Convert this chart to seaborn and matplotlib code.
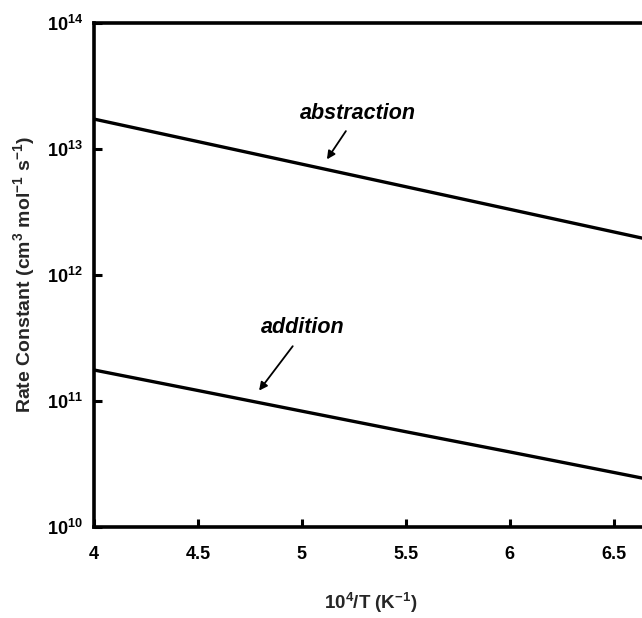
import matplotlib
matplotlib.use('Agg')
import matplotlib.pyplot as plt
import matplotlib.ticker as mticker
import numpy as np
import pandas as pd
import seaborn as sns

# values (log-scale rate constants)
inv_temp = [4.0, 4.5, 5.0, 5.5, 6.0, 6.5, 7.0]
k_abstraction = [1.72e13, 1.14e13, 7.55e12, 5.0e12, 3.31e12, 2.19e12, 1.45e12]
k_addition = [1.76e11, 1.21e11, 8.3e10, 5.7e10, 3.94e10, 2.71e10, 1.86e10]
x_ticks = [4, 4.5, 5, 5.5, 6, 6.5]
x_tick_labels = ['4', '4.5', '5', '5.5', '6', '6.5']

sns.set_style('ticks')
plt.rcParams['font.family'] = ['Liberation Sans', 'DejaVu Sans']
plt.rcParams['font.weight'] = 'bold'
plt.rcParams['mathtext.fontset'] = 'custom'
plt.rcParams['mathtext.rm'] = 'Liberation Sans:bold'
plt.rcParams['mathtext.bf'] = 'Liberation Sans:bold'
plt.rcParams['mathtext.it'] = 'Liberation Sans:bold:italic'
plt.rcParams['mathtext.default'] = 'bf'

df = pd.DataFrame({
    'x': inv_temp * 2,
    'k': k_abstraction + k_addition,
    'reaction': ['abstraction'] * len(inv_temp) + ['addition'] * len(inv_temp),
})

fig = plt.figure(figsize=(6.42, 6.18), dpi=100)
ax = fig.add_axes([0.1464, 0.1472, 0.8614, 0.8161])

sns.lineplot(data=df, x='x', y='k', hue='reaction', palette=['black', 'black'],
             linewidth=2.4, legend=False, ax=ax)

ax.set_yscale('log')
ax.set_xlim(4, 6.66)
ax.set_ylim(1e10, 1e14)
ax.yaxis.set_major_locator(mticker.LogLocator(base=10, numticks=10))
ax.yaxis.set_minor_locator(mticker.NullLocator())
ax.yaxis.set_major_formatter(mticker.FuncFormatter(lambda v, p: r'$10^{%d}$' % round(np.log10(v))))
ax.set_xticks(x_ticks)
ax.set_xticklabels(x_tick_labels)

for s in ax.spines.values():
    s.set_linewidth(2.6)
    s.set_color('black')
ax.tick_params(axis='both', direction='in', length=6, width=2.2, labelsize=13, colors='black')
ax.tick_params(axis='x', pad=14)
ax.tick_params(axis='y', pad=8)
for lbl in ax.get_xticklabels() + ax.get_yticklabels():
    lbl.set_fontweight('bold')

ax.set_xlabel(r'10$^{4}$/T (K$^{-1}$)', fontsize=13.5, fontweight='bold', labelpad=20)
ax.set_ylabel(r'Rate Constant (cm$^{3}$ mol$^{-1}$ s$^{-1}$)', fontsize=14,
              fontweight='bold', labelpad=7)

# labels with arrows
ax.text(5.267, 1.89e13, 'abstraction', fontsize=15.5, fontweight='bold', fontstyle='italic',
        color='black', ha='center', va='center')
ax.annotate('', xy=(5.113, 7.9e12), xytext=(5.219, 1.44e13),
            arrowprops=dict(arrowstyle='-|>', color='black', lw=1.3, mutation_scale=12))
ax.text(5.002, 3.79e11, 'addition', fontsize=15.5, fontweight='bold', fontstyle='italic',
        color='black', ha='center', va='center')
ax.annotate('', xy=(4.786, 1.16e11), xytext=(4.964, 2.83e11),
            arrowprops=dict(arrowstyle='-|>', color='black', lw=1.3, mutation_scale=12))

fig.savefig('out.png', dpi=100)
